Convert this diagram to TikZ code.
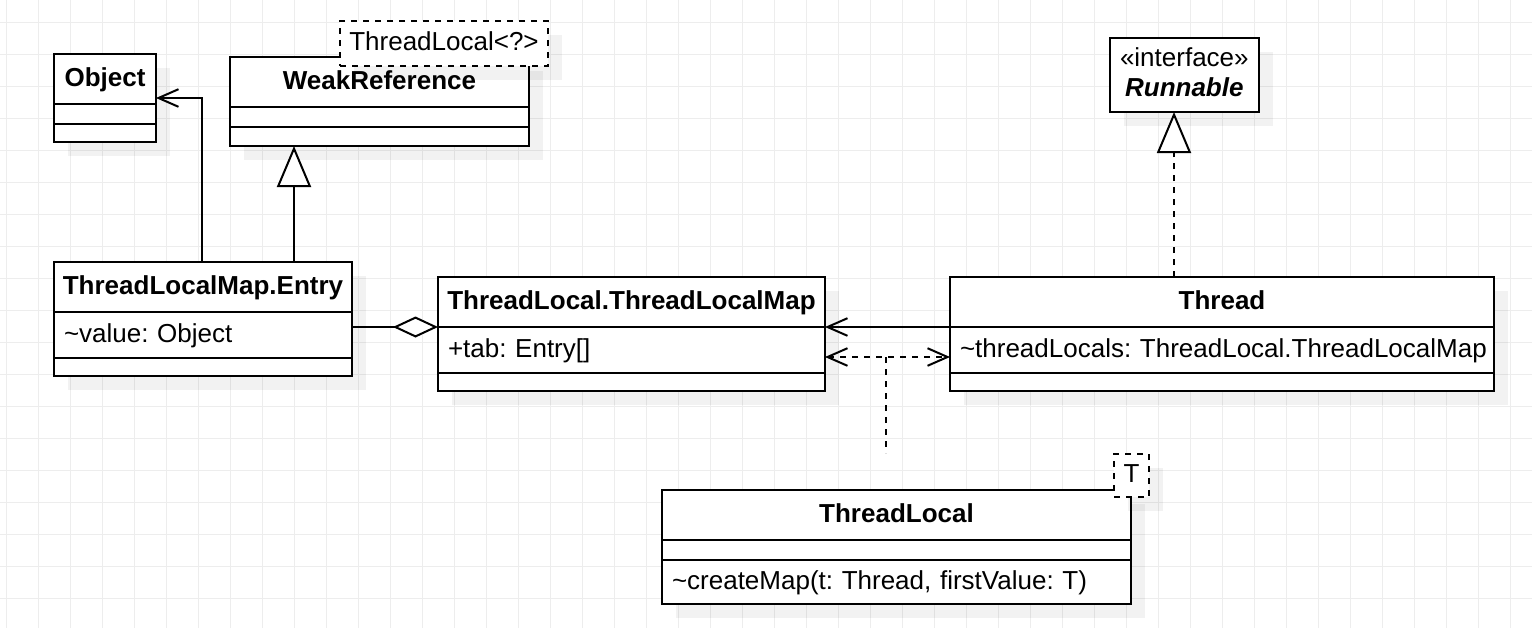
\documentclass[tikz,border=0pt]{standalone}
\usepackage{fontspec}
\setmainfont{Liberation Sans}
\usetikzlibrary{arrows.meta,calc,positioning,shadows}

\begin{document}
\begin{tikzpicture}[
    x=0.5pt, y=-0.5pt,
    font=\fontsize{13}{15.6}\selectfont\frenchspacing,
    gridline/.style={draw=black!7, line width=0.5pt},
    shd/.style={drop shadow={shadow xshift=7pt, shadow yshift=-7pt, fill=black, opacity=0.05}},
    part/.style={draw, fill=white, line width=1pt, outer sep=0pt, inner xsep=5pt, inner ysep=0pt, shd},
    head/.style={part, inner xsep=2pt, font=\fontsize{13}{15.6}\selectfont\frenchspacing\bfseries, text height=9.5pt, text depth=2.5pt, minimum height=25pt, anchor=north west},
    field/.style={part, align=left, text height=9.5pt, text depth=2.5pt, below=0pt of #1},
    slot/.style={part, below=0pt of #1},
    tparam/.style={part, dash pattern=on 3pt off 3pt, inner xsep=0pt, text height=9.5pt, text depth=2.5pt, anchor=north west},
    assoc/.style={-{Straight Barb[length=10pt, width=8.8pt]}, line width=1pt},
    dep/.style={{Straight Barb[length=10pt, width=8.8pt]}-{Straight Barb[length=10pt, width=8.8pt]}, line width=1pt, dash pattern=on 3pt off 3pt},
    link/.style={line width=1pt, dash pattern=on 3pt off 3pt},
    gen/.style={-{Triangle[length=20.5pt, width=17pt, fill=white]}, line width=1pt},
    real/.style={gen, dash pattern=on 3pt off 3pt},
    agg/.style={-{Diamond[length=22.5pt, width=10.5pt, fill=white]}, line width=1pt}
]

% background grid
\fill[white] (0,0) rectangle (1532,628);
\useasboundingbox (0,0) rectangle (1532,628);
\foreach \gx in {6,38,...,1510} \draw[gridline] (\gx,0) -- (\gx,628);
\foreach \gy in {22,54,...,598} \draw[gridline] (0,\gy) -- (1532,\gy);

% ---------------- top row ----------------
\node[head, minimum width=51pt] (object) at (54,54) {Object};
\node[slot=object, minimum width=51pt, minimum height=10pt] (object-a) {};
\node[slot=object-a, minimum width=51pt, minimum height=9pt] (object-m) {};

\node[head, minimum width=149.5pt] (wref) at (230,57) {WeakReference};
\node[slot=wref, minimum width=149.5pt, minimum height=10pt] (wref-a) {};
\node[slot=wref-a, minimum width=149.5pt, minimum height=9.5pt] (wref-m) {};
\node[tparam, minimum width=104pt, minimum height=22.5pt] (wref-t) at (340,21) {ThreadLocal<?>};

\node[part, anchor=north west, minimum width=73.5pt, minimum height=37pt, align=center, text depth=3pt] (runnable) at (1110,38)
{«interface»\\[-1pt]\textbf{\textit{Runnable}}};

% ---------------- middle row ----------------
\node[head, minimum width=149pt] (entry) at (54,262) {ThreadLocalMap.Entry};
\node[field=entry, text width=139pt, minimum height=23pt] (entry-a) {\textasciitilde value: Object};
\node[slot=entry-a, minimum width=149pt, minimum height=9pt] (entry-m) {};

\node[head, minimum width=193.5pt] (tlmap) at (438,277) {ThreadLocal.ThreadLocalMap};
\node[field=tlmap, text width=183.5pt, minimum height=23pt] (tlmap-a) {+tab: Entry[]};
\node[slot=tlmap-a, minimum width=193.5pt, minimum height=9pt] (tlmap-m) {};

\node[head, minimum width=272pt] (thread) at (950,277) {Thread};
\node[field=thread, text width=262pt, minimum height=23pt] (thread-a) {\mbox{\textasciitilde threadLocals: ThreadLocal.ThreadLocalMap}};
\node[slot=thread-a, minimum width=272pt, minimum height=9pt] (thread-m) {};

% ---------------- bottom ----------------
\node[head, minimum width=234.5pt] (tlocal) at (662,490) {ThreadLocal};
\node[slot=tlocal, minimum width=234.5pt, minimum height=10pt] (tlocal-a) {};
\node[field=tlocal-a, text width=224.5pt, minimum height=22pt] (tlocal-m) {\mbox{\textasciitilde createMap(t: Thread, firstValue: T)}};
\node[tparam, minimum width=17.5pt, minimum height=21.5pt] (tlocal-t) at (1114,454) {T};

% ---------------- connectors ----------------
\draw[assoc] ($(entry.north west)+(148,0)$) |- ($(object.north east)+(0,44)$);
\draw[gen] ($(entry.north west)+(240,0)$) coordinate (g0) -- (g0 |- wref-m.south);
\draw[agg] (entry-a.east |- tlmap.south) -- (tlmap.south west);
\draw[assoc] (thread.south west) -- (tlmap.south east);
\draw[dep] ($(tlmap-a.north east)+(0,30)$) coordinate (d0) -- (d0 -| thread-a.west);
\coordinate (lk0) at ($(d0)+(61,0)$);
\coordinate (lk1) at ($(lk0)+(0,96)$);
\draw[link] (lk0) -- (lk1);
\draw[real] ($(thread.north west)+(224,0)$) coordinate (r0) -- (r0 |- runnable.south);

\end{tikzpicture}
\end{document}
